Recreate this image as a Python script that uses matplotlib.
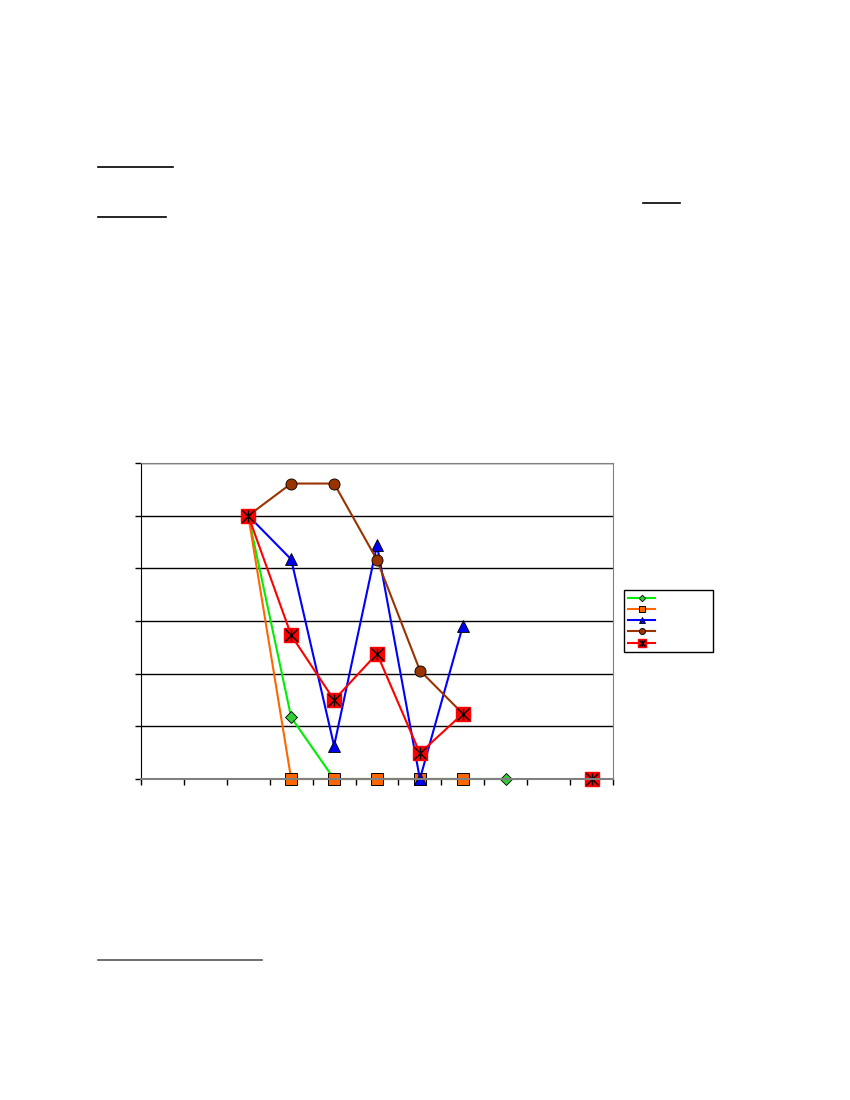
import matplotlib.pyplot as plt
from matplotlib.lines import Line2D
import numpy as np

nan = np.nan
# 11 categories, values (no labels shown in the reference)
cats = np.arange(1, 12)
green = [nan, nan, 5.0, 1.17, 0, 0, 0, 0, 0, nan, nan]
orange = [nan, nan, 5.0, 0, 0, 0, 0, 0, nan, nan, nan]
blue = [nan, nan, 5.0, 4.17, 0.63, 4.44, 0, 2.91, nan, nan, nan]
brown = [nan, nan, 5.0, 5.61, 5.61, 4.16, 2.06, 1.24, nan, nan, 0]
red = [nan, nan, 5.0, 2.73, 1.5, 2.38, 0.49, 1.24, nan, nan, 0]

fig = plt.figure(figsize=(8.5, 11), dpi=100)
ax = fig.add_axes([141/850, 1-779/1100, 472/850, 316/1100])

ax.set_xlim(0.5, 11.5)
ax.set_ylim(0, 6)
ax.set_xticks(np.arange(0.5, 12, 1))
ax.set_yticks(np.arange(0, 7, 1))
ax.set_xticklabels([])
ax.set_yticklabels([])
ax.tick_params(direction='out', length=4, width=1, color='black')
ax.yaxis.grid(True, color='black', lw=1)
ax.set_axisbelow(True)
for s in ['top', 'right', 'bottom']:
  ax.spines[s].set_color('#808080')
ax.spines['left'].set_color('black')
ax.spines['bottom'].set_linewidth(1.5)

h1, = ax.plot(cats, green, color='#00ee00', lw=1.5, marker='D', ms=6,
              mfc='#33cc33', mec='black', mew=0.6, clip_on=False)
h2, = ax.plot(cats, orange, color='#ff6600', lw=1.5, marker='s', ms=8,
              mfc='#ff6600', mec='black', mew=0.7, clip_on=False)
h3, = ax.plot(cats, blue, color='#0000ff', lw=1.5, marker='^', ms=8.5,
              mfc='#0000ee', mec='black', mew=0.6, clip_on=False)
h4, = ax.plot(cats, brown, color='#993300', lw=1.5, marker='o', ms=8,
              mfc='#993300', mec='black', mew=0.6, clip_on=False)
h5, = ax.plot(cats, red, color='#ff0000', lw=1.5, marker='s', ms=10,
              mfc='#ff0000', mec='#ff0000', clip_on=False)
h5x, = ax.plot(cats, red, ls='none', marker='x', ms=8, mec='black', mew=1, clip_on=False)
h5b, = ax.plot(cats, red, ls='none', marker='|', ms=9, mec='black', mew=1, clip_on=False)

leg = fig.legend([h1, h2, h3, h4, (h5, h5x, h5b)], [' ', ' ', ' ', ' ', ' '],
                 bbox_to_anchor=(624/850, 1-651/1100, 89/850, 61/1100),
                 loc='upper left', mode='expand', fontsize=6, markerscale=0.55,
                 handlelength=3.2, labelspacing=0.25, borderpad=0.5,
                 borderaxespad=0, fancybox=False, framealpha=1, edgecolor='black')
leg.get_frame().set_linewidth(1)

# leftover underlines of the page text
for x0, x1, y, c in [(98, 173, 167, 'black'), (643, 680, 203, 'black'),
                     (98, 166, 217, 'black'), (98, 262, 960, '#555555')]:
  fig.add_artist(Line2D([x0/850, x1/850], [1-y/1100, 1-y/1100], color=c, lw=1.2))

fig.savefig('out.png', dpi=100)
